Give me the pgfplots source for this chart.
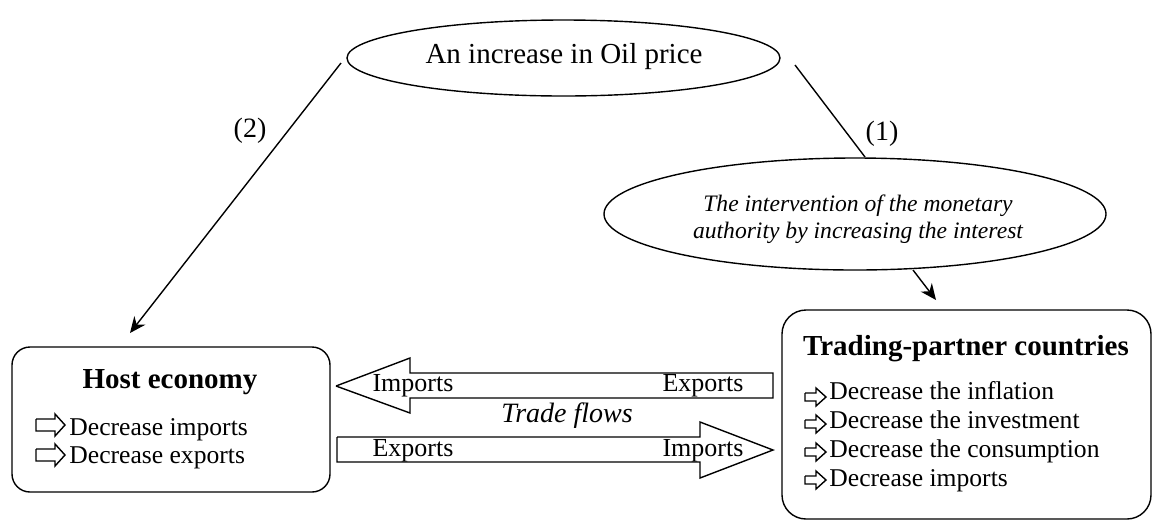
\documentclass[border=0pt]{standalone}
\usepackage{pgfplots}
\pgfplotsset{compat=1.18}
\usepackage{fontspec}
\setmainfont{Liberation Serif}
\usetikzlibrary{shapes.geometric,arrows.meta}
\newcommand{\fs}[1]{\fontsize{#1}{#1}\selectfont}
\begin{document}
\begin{tikzpicture}
\begin{axis}[width=578pt,height=260.5pt,scale only axis,
  xmin=0,xmax=1156,ymin=0,ymax=521,y dir=reverse,
  axis lines=none,clip=false,
  cycle list={{black,solid,mark=none}},
  every axis plot/.append style={line width=0.7pt}]
\path (rel axis cs:0,0) rectangle (rel axis cs:1,1);
% top ellipse
\node[draw,ellipse,line width=0.7pt,minimum width=216.5pt,minimum height=38pt,inner sep=0pt] at (axis cs:563.5,58) {};
\node[font=\fs{14.5}] at (axis cs:564,57) {An increase in Oil price};
% second ellipse
\node[draw,ellipse,line width=0.7pt,minimum width=251pt,minimum height=56pt,inner sep=0pt] at (axis cs:855,214) {};
\node[font=\fontsize{11.8}{13.5}\selectfont\itshape,align=center] at (axis cs:858,219) {The intervention of the monetary\\authority by increasing the interest};
% connecting lines
\addplot+[-{Stealth[length=8pt,width=7pt]}] coordinates {(341,63) (130,333)};
\addplot coordinates {(795,65) (865,157)};
\addplot+[-{Stealth[length=8pt,width=7pt]}] coordinates {(913,270) (936,300)};
\node[font=\fs{14}] at (axis cs:250,131) {(2)};
\node[font=\fs{14}] at (axis cs:882,134) {(1)};
% host box
\draw[rounded corners=9pt,line width=0.7pt] (axis cs:12,347) rectangle (axis cs:330,492);
\node[anchor=base,font=\fs{14.5}\bfseries] at (axis cs:170,388) {Host economy};
\node[anchor=base west,inner sep=0pt,font=\fs{12.8}] at (axis cs:69,435) {Decrease imports};
\node[anchor=base west,inner sep=0pt,font=\fs{12.8}] at (axis cs:69,463) {Decrease exports};
\addplot coordinates {(36,419) (55,419) (55,414) (65,425) (55,436) (55,431) (36,431) (36,419)};
\addplot coordinates {(36,449) (55,449) (55,444) (65,455) (55,466) (55,461) (36,461) (36,449)};
% trading box
\draw[rounded corners=12pt,line width=0.7pt] (axis cs:782,310) rectangle (axis cs:1151,519);
\node[anchor=base,font=\fs{14.5}\bfseries] at (axis cs:966,355) {Trading-partner countries};
\node[anchor=base west,inner sep=0pt,font=\fs{12.8}] at (axis cs:829,399) {Decrease the inflation};
\node[anchor=base west,inner sep=0pt,font=\fs{12.8}] at (axis cs:829,428) {Decrease the investment};
\node[anchor=base west,inner sep=0pt,font=\fs{12.8}] at (axis cs:829,457) {Decrease the consumption};
\node[anchor=base west,inner sep=0pt,font=\fs{12.8}] at (axis cs:829,486) {Decrease imports};
\addplot coordinates {(805,393) (816,393) (816,388) (826,397) (816,406) (816,401) (805,401) (805,393)};
\addplot coordinates {(805,420) (816,420) (816,415) (826,424) (816,433) (816,428) (805,428) (805,420)};
\addplot coordinates {(805,448) (816,448) (816,443) (826,452) (816,461) (816,456) (805,456) (805,448)};
\addplot coordinates {(805,476) (816,476) (816,471) (826,480) (816,489) (816,484) (805,484) (805,476)};
% trade flow arrows
\addplot coordinates {(336,386) (410,358) (410,373) (773,373) (773,398) (410,398) (410,413) (336,386)};
\addplot coordinates {(337,437) (700,437) (700,422) (773,450) (700,478) (700,462) (337,462) (337,437)};
\node[font=\fs{13}] at (axis cs:413,386) {Imports};
\node[font=\fs{13}] at (axis cs:703,386) {Exports};
\node[font=\fs{13}] at (axis cs:413,451) {Exports};
\node[font=\fs{13}] at (axis cs:703,451) {Imports};
\node[font=\fs{14}\itshape] at (axis cs:567,416) {Trade flows};
\end{axis}
\end{tikzpicture}
\end{document}
